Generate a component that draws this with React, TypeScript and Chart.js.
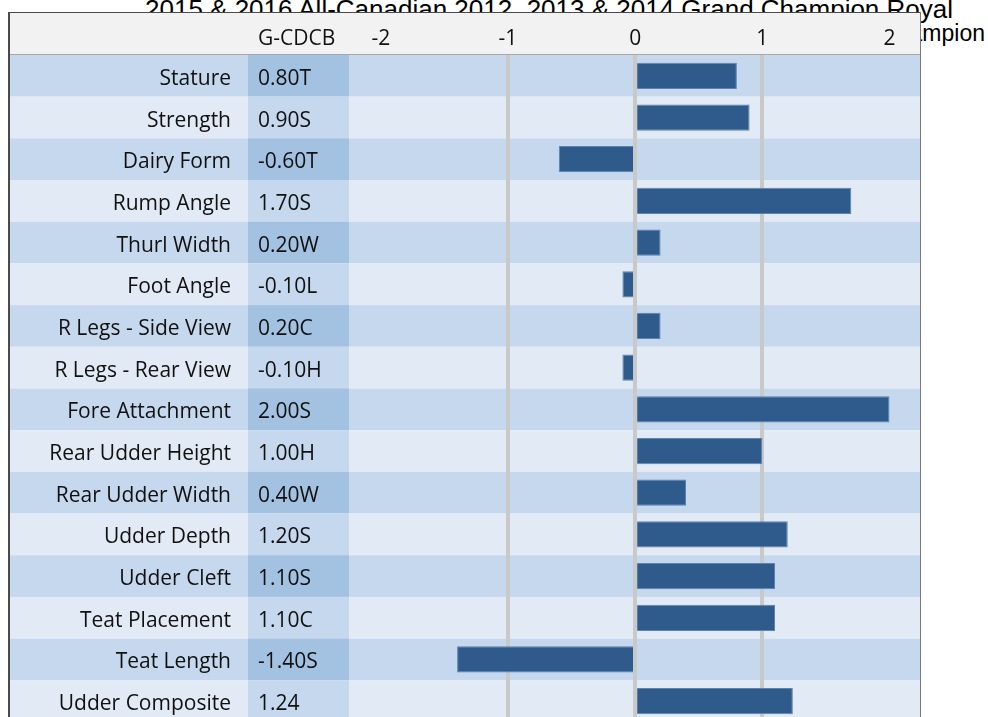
import React, { useEffect, useRef } from "react";
import { Chart, registerables } from "chart.js";

Chart.register(...registerables);

const categories = [
  "Stature",
  "Strength",
  "Dairy Form",
  "Rump Angle",
  "Thurl Width",
  "Foot Angle",
  "R Legs - Side View",
  "R Legs - Rear View",
  "Fore Attachment",
  "Rear Udder Height",
  "Rear Udder Width",
  "Udder Depth",
  "Udder Cleft",
  "Teat Placement",
  "Teat Length",
  "Udder Composite",
];
const values = [0.8, 0.9, -0.6, 1.7, 0.2, -0.1, 0.2, -0.1, 2.0, 1.0, 0.4, 1.2, 1.1, 1.1, -1.4, 1.24];
const valueLabels = [
  "0.80T", "0.90S", "-0.60T", "1.70S", "0.20W", "-0.10L", "0.20C", "-0.10H",
  "2.00S", "1.00H", "0.40W", "1.20S", "1.10S", "1.10C", "-1.40S", "1.24",
];
const valueHeader = "G-CDCB";
const xTicks = [-2, -1, 0, 1, 2];
const gridValues = [-1, 0, 1];
const bgLine1 = "2015 & 2016 All-Canadian 2012, 2013 & 2014 Grand Champion Royal";
const bgLine2 = "Winter Fair Grand Champion";

const FONT = "'Open Sans', 'Noto Sans', sans-serif";
const FSIZE = 21;
const TEXT = "#111111";

const tablePlugin = {
  id: "tablePlugin",
  beforeDraw(chart: any) {
    const { ctx, chartArea, scales, width } = chart;
    const y = scales.y;
    const n = categories.length;
    const rowH = chartArea.height / n;
    ctx.save();
    ctx.fillStyle = "#ffffff";
    ctx.fillRect(0, 0, width, chart.height);
    ctx.fillStyle = "#f2f2f2";
    ctx.fillRect(0, 0, chartArea.right, chartArea.top);
    for (let i = 0; i < n; i++) {
      const yc = y.getPixelForValue(i);
      const top = yc - rowH / 2;
      const odd = i % 2 === 0;
      ctx.fillStyle = odd ? "#c5d8ed" : "#e2eaf5";
      ctx.fillRect(0, top, chartArea.right, rowH);
      ctx.fillStyle = odd ? "#a3c2e1" : "#c5d8ed";
      ctx.fillRect(240, top, chartArea.left - 240, rowH);
    }
    ctx.fillStyle = "#a8a8a8";
    ctx.fillRect(0, chartArea.top - 1, chartArea.right, 1);
    ctx.restore();
  },
  afterDraw(chart: any) {
    const { ctx, chartArea, scales } = chart;
    const y = scales.y;
    ctx.save();
    ctx.font = `${FSIZE}px ${FONT}`;
    ctx.fillStyle = TEXT;
    ctx.textAlign = "left";
    ctx.textBaseline = "middle";
    ctx.fillText(valueHeader, 250, 27);
    for (let i = 0; i < valueLabels.length; i++) {
      ctx.fillText(valueLabels[i], 250, y.getPixelForValue(i) + 3);
    }
    ctx.fillStyle = "#4a4a4a";
    ctx.fillRect(0, 0, 2, chart.height);
    ctx.fillRect(0, 0, chartArea.right + 1, 1);
    ctx.fillStyle = "#7a7a7a";
    ctx.fillRect(chartArea.right, 0, 1, chart.height);
    ctx.restore();
  },
};

export default function App() {
  const ref = useRef<HTMLCanvasElement>(null);

  useEffect(() => {
    if (!ref.current) return;
    const chart = new Chart(ref.current, {
      type: "bar",
      data: {
        labels: categories,
        datasets: [
          {
            data: values,
            backgroundColor: "#2f5b8c",
            borderColor: "#5d82ad",
            borderWidth: 1,
            barPercentage: 0.63,
            categoryPercentage: 1,
          },
        ],
      },
      options: {
        indexAxis: "y",
        responsive: false,
        animation: false,
        devicePixelRatio: 1,
        layout: { padding: { left: 0, right: 1, top: 0, bottom: 0 } },
        plugins: { legend: { display: false }, tooltip: { enabled: false } },
        scales: {
          x: {
            type: "linear",
            position: "top",
            min: -2.25,
            max: 2.24,
            afterBuildTicks: (scale: any) => {
              scale.ticks = xTicks.map((v) => ({ value: v }));
            },
            afterFit: (scale: any) => {
              scale.height = 43;
              scale.paddingLeft = 0;
              scale.paddingRight = 0;
            },
            grid: {
              color: (c: any) => (c.tick && gridValues.includes(c.tick.value) ? "#c9c9c9" : "rgba(0,0,0,0)"),
              lineWidth: 4,
              drawTicks: false,
            },
            border: { display: false },
            ticks: {
              font: { family: FONT, size: FSIZE, lineHeight: 1.2 },
              color: TEXT,
              padding: 3,
              maxRotation: 0,
              autoSkip: false,
            },
          },
          y: {
            type: "category",
            position: "left",
            afterFit: (scale: any) => {
              scale.width = 341;
              scale.paddingTop = 0;
              scale.paddingBottom = 0;
            },
            grid: { display: false, drawTicks: false },
            border: { display: false },
            ticks: {
              font: { family: FONT, size: FSIZE },
              color: TEXT,
              padding: 118,
              labelOffset: 3,
              autoSkip: false,
            },
          },
        },
      },
      plugins: [tablePlugin],
    } as any);
    return () => chart.destroy();
  }, []);

  const bgText: React.CSSProperties = {
    position: "absolute",
    fontFamily: "'Liberation Sans', Arial, sans-serif",
    whiteSpace: "nowrap",
    color: "#000",
    zIndex: 0,
  };

  return (
    <div style={{ position: "fixed", left: 0, top: 0, width: 988, height: 717, overflow: "hidden", background: "#fff" }}>
      <div style={{ ...bgText, left: 145, top: -4, fontSize: 26, lineHeight: "26px" }}>{bgLine1}</div>
      <div style={{ ...bgText, right: 3, top: 21.5, fontSize: 23, lineHeight: "23px" }}>{bgLine2}</div>
      <div style={{ position: "absolute", left: 8, top: 12, zIndex: 1, width: 913, height: 710, background: "#fff" }}>
        <canvas ref={ref} width={913} height={710} style={{ display: "block" }} />
      </div>
    </div>
  );
}
